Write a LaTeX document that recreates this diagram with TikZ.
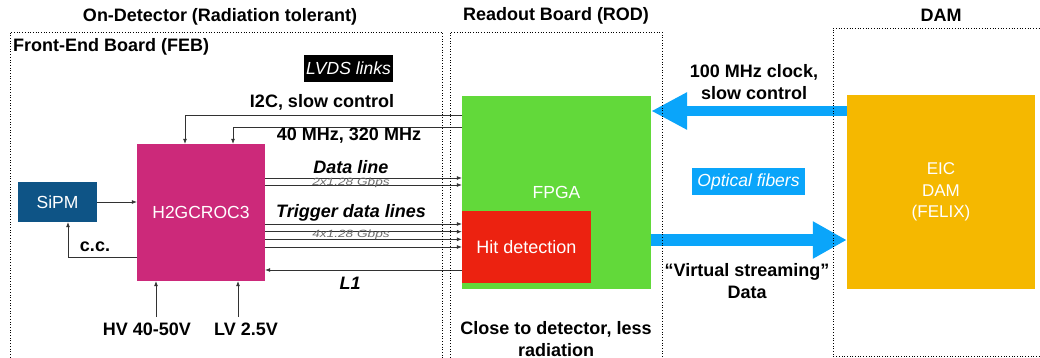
\documentclass[tikz,border=0pt]{standalone}
\usepackage{fontspec}
\setmainfont{Liberation Sans}
\usetikzlibrary{arrows.meta}

\definecolor{sipmblue}{RGB}{14,84,134}
\definecolor{rocmag}{RGB}{204,41,122}
\definecolor{fpgagreen}{RGB}{98,217,58}
\definecolor{hitred}{RGB}{236,34,16}
\definecolor{damorange}{RGB}{245,184,0}
\definecolor{fibreblue}{RGB}{10,165,250}
\definecolor{wire}{RGB}{50,50,50}
\definecolor{ratecol}{RGB}{110,110,110}

\tikzset{
  chip/.style={draw=none, inner sep=0pt, text=white, align=center, font=\fontsize{17.5}{21.5}\selectfont},
  area/.style={draw=black, dotted, line width=0.7pt},
  heading/.style={font=\bfseries\fontsize{18}{21}\selectfont, text=black, inner sep=0pt},
  lbl/.style={font=\bfseries\fontsize{18}{21.5}\selectfont, text=black, inner sep=0pt, align=center},
  ilbl/.style={font=\bfseries\itshape\fontsize{18}{21}\selectfont, text=black, inner sep=0pt},
  rate/.style={font=\itshape\fontsize{10.5}{12}\selectfont, text=ratecol, inner sep=0pt, xscale=1.3},
  sig/.style={draw=wire, line width=0.7pt, -{Latex[length=5pt,width=4pt]}},
  fibre/.style={draw=fibreblue, line width=#1},
  tagbox/.style={inner sep=0pt, text=white, font=\itshape\fontsize{17.5}{20}\selectfont}
}

\begin{document}
\begin{tikzpicture}[x=1pt, y=-1pt]
\useasboundingbox (0,0) rectangle (1040,358);

% headings
\node[heading] (hfeb) at (220,17) {On-Detector (Radiation tolerant)};
\node[heading] (hrod) at (556,16) {Readout Board (ROD)};
\node[heading] (hdam) at (941,15) {DAM};

% functional blocks
\node[chip, fill=sipmblue, minimum width=79pt, minimum height=40pt] (sipm) at (57.5,202) {SiPM};
\node[chip, fill=rocmag, minimum width=128pt, minimum height=137pt] (h2g) at (201,212.5) {H2GCROC3};
\node[chip, fill=fpgagreen, minimum width=189pt, minimum height=193pt] (fpga) at (556.5,192.5) {FPGA};
\node[chip, fill=hitred, minimum width=129pt, minimum height=72pt, font=\fontsize{18}{21}\selectfont] (hit) at (526.5,247) {Hit detection};
\node[chip, fill=damorange, minimum width=188pt, minimum height=194pt, font=\fontsize{17}{21.5}\selectfont] (dam) at (941,192) {EIC\\DAM\\(FELIX)};

% board labels
\node[lbl, anchor=west] (feb) at (13,47) {Front-End Board (FEB)};
\node[tagbox, fill=black, minimum width=89pt, minimum height=27pt] (lvds) at (348.5,68.5) {LVDS links};

% slow control and clocks
\coordinate (i2c) at (185,115);
\coordinate (clk) at (233,127);
\draw[sig] (fpga.west |- i2c) -- (i2c) -- (i2c |- h2g.north);
\draw[sig] (fpga.west |- clk) -- (clk) -- (clk |- h2g.north);
\node[lbl] (li2c) at (322,102) {I2C, slow control};
\node[lbl] (lclk) at (349,136) {40 MHz, 320 MHz};

% data lines
\foreach \yy in {178,185}
  \draw[sig] (h2g.east |- 0,\yy) -- (fpga.west |- 0,\yy);
\node[ilbl] (ldata) at (351,167) {Data line};
\node[rate] (rdata) at (351,183) {2x1.28 Gbps};

% trigger data lines
\foreach \yy in {224,231.7,239.3,247}
  \draw[sig] (h2g.east |- 0,\yy) -- (hit.west |- 0,\yy);
\node[ilbl] (ltrig) at (351,213) {Trigger data lines};
\node[rate] (rtrig) at (351,235) {4x1.28 Gbps};

% L1 accept
\coordinate (l1) at (462,270);
\draw[sig] (hit.west |- l1) -- (h2g.east |- l1);
\node[ilbl] (ll1) at (350,283) {L1};

% SiPM connections
\coordinate (cc) at (68,257);
\draw[sig] (sipm.east) -- (h2g.west |- sipm.east);
\draw[sig] (h2g.west |- cc) -- (cc) -- (cc |- sipm.south);
\node[lbl] (lcc) at (95,247) {c.c.};

% supplies
\coordinate (hv) at (156,317);
\coordinate (lv) at (238,317);
\draw[sig] (hv) -- (hv |- h2g.south);
\draw[sig] (lv) -- (lv |- h2g.south);
\node[lbl] (lhv) at (147,329) {HV 40-50V};
\node[lbl] (llv) at (246,329) {LV 2.5V};

% optical links
\coordinate (up) at (0,111);
\coordinate (down) at (0,240);
\draw[fibre=10pt, -{Triangle[length=36pt,width=35pt]}] (dam.west |- up) -- (fpga.east |- up);
\draw[fibre=12pt, -{Triangle[length=34pt,width=35pt]}] (fpga.east |- down) -- (dam.west |- down);
\node[lbl] (lclock) at (754,82) {100 MHz clock,\\slow control};
\node[tagbox, fill=fibreblue, minimum width=113pt, minimum height=27pt] (opt) at (748.5,181.5) {Optical fibers};
\node[lbl] (lstream) at (747,281) {``Virtual streaming''\\Data};

% ROD note
\node[lbl] (lnote) at (556,339) {Close to detector, less\\radiation};

% region outlines
\draw[area] (10,360) -- (10,32) -- (442,32) -- (442,360);
\draw[area] (450,360) -- (450,32) -- (662,32) -- (662,360);
\draw[area] (1042,356) -- (833,356) -- (833,28) -- (1042,28);
\end{tikzpicture}
\end{document}
